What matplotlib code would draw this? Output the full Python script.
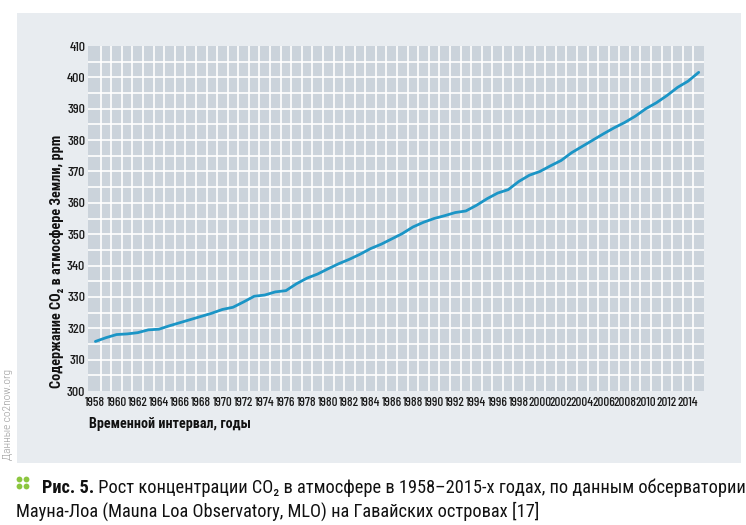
import numpy as np
import matplotlib
matplotlib.use("Agg")
import matplotlib.pyplot as plt
from matplotlib.patches import Rectangle
from matplotlib.lines import Line2D

# ----- data (annual CO2 at Mauna Loa)
years = np.arange(1958, 2016)
co2 = [315.8, 317.0, 318.0, 318.2, 318.6, 319.5, 319.7, 320.8, 321.8, 322.8,
       323.8, 324.8, 326.0, 326.7, 328.4, 330.2, 330.6, 331.6, 332.0, 334.2,
       336.0, 337.3, 339.0, 340.6, 342.0, 343.6, 345.4, 346.8, 348.5, 350.2,
       352.3, 353.8, 355.0, 355.9, 356.9, 357.4, 359.2, 361.3, 363.1, 364.2,
       366.8, 368.8, 370.0, 371.8, 373.5, 376.0, 378.0, 380.0, 382.0, 383.9,
       385.6, 387.6, 390.0, 391.9, 394.2, 396.8, 398.8, 401.6]
xticks = np.arange(1958, 2015, 2)
yticks = np.arange(300, 411, 10)

ylabel = "Содержание CO\u2082 в атмосфере Земли, ppm"
xlabel = "Временной интервал, годы"
source = "Данные co2now.org"
cap_bold = "Рис. 5."
cap_line1 = " Рост концентрации CO\u2082 в атмосфере в 1958\u20132015-х годах, по данным обсерватории"
cap_line2 = "Мауна-Лоа (Mauna Loa Observatory, MLO) на Гавайских островах [17]"

# ----- fonts
cond = ["Roboto Condensed", "DejaVu Sans"]
digits = ["Barlow Condensed", "Roboto Condensed", "DejaVu Sans"]
plt.rcParams["font.family"] = cond

W, H = 746, 525
fig = plt.figure(figsize=(W / 100, H / 100), dpi=100)
fig.patch.set_facecolor("white")

def fx(px):
    return px / W

def fy(py):
    return 1 - py / H

# light panel behind the chart
fig.add_artist(Rectangle((fx(17), fy(463)), fx(741) - fx(17), fy(13) - fy(463),
                         transform=fig.transFigure, facecolor="#e8ecf0",
                         edgecolor="none", zorder=0))

ax = fig.add_axes([fx(88), fy(391), fx(704) - fx(88), fy(46) - fy(391)])
ax.set_facecolor("#cbd3db")
ax.set_xlim(1957.3, 2015.5)
ax.set_ylim(300, 410)

# grid: one cell per year, 5 ppm rows
for xb in np.arange(1958.5, 2015.5, 1):
    ax.axvline(xb, color="white", lw=1.2, zorder=1)
for yb in np.arange(305, 410, 5):
    ax.axhline(yb, color="white", lw=1.2, zorder=1)

ax.plot(years, co2, color="#1b95c6", lw=2.0, solid_capstyle="round",
        solid_joinstyle="round", zorder=3)

for s in ax.spines.values():
    s.set_visible(False)
ax.set_xticks(xticks)
ax.set_yticks(yticks)
ax.tick_params(length=0, colors="#1a1a1a")
ax.tick_params(axis="x", pad=4)
ax.tick_params(axis="y", pad=2)
for lab in ax.get_xticklabels():
    lab.set_family(digits)
    lab.set_fontsize(9.4)
    lab.set_fontweight("medium")
for lab in ax.get_yticklabels():
    lab.set_family(digits)
    lab.set_fontsize(10)
    lab.set_fontweight("medium")

renderer = fig.canvas.get_renderer()

def fit(t, length_px):
    bb = t.get_window_extent(renderer)
    cur = max(bb.width, bb.height)
    t.set_fontsize(t.get_fontsize() * length_px / cur)

# axis titles
yl = fig.text(fx(57), fy(388), ylabel, rotation=90, ha="center", va="bottom",
              fontsize=11, fontweight="bold", color="#111111")
fit(yl, 253)
xl = fig.text(fx(89), fy(424), xlabel, ha="left", va="center",
              fontsize=11, fontweight="bold", color="#111111")
fit(xl, 162)

# source note
src = fig.text(fx(8), fy(460), source, rotation=90, ha="center", va="bottom",
               fontsize=8.5, color="#9a9a9a", fontweight="light")
fit(src, 90)

# caption
for (bx, by) in [(19, 479), (26, 479), (19, 486), (26, 486)]:
    fig.add_artist(Line2D([fx(bx)], [fy(by)], marker="o", ms=4.2, color="#8cc63f",
                          mec="none", transform=fig.transFigure))
cb = fig.text(fx(42), fy(488), cap_bold, ha="left", va="center", fontsize=13,
              fontweight="bold", color="#111111")
c1 = fig.text(fx(42), fy(488), cap_line1, ha="left", va="center", fontsize=13,
              color="#111111")
bw = cb.get_window_extent(renderer).width
w1 = c1.get_window_extent(renderer).width
scale = (741 - 42) / (bw + w1)
cb.set_fontsize(13 * scale)
c1.set_fontsize(13 * scale)
bw = cb.get_window_extent(renderer).width
c1.set_x(fx(42 + bw))
c2 = fig.text(fx(16), fy(511), cap_line2, ha="left", va="center",
              fontsize=13 * scale, color="#111111")

fig.savefig("out.png", dpi=100)
